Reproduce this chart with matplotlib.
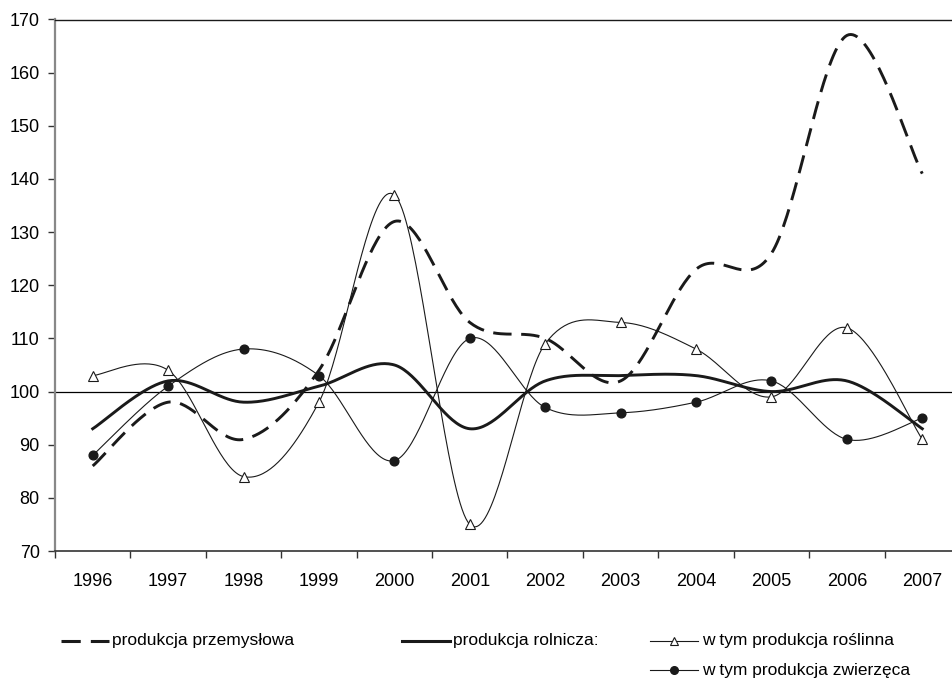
import numpy as np
import matplotlib
matplotlib.use("Agg")
import matplotlib.pyplot as plt
from matplotlib.lines import Line2D

plt.rcParams['font.family'] = ['Liberation Sans', 'DejaVu Sans']

years = ['1996', '1997', '1998', '1999', '2000', '2001', '2002', '2003', '2004', '2005', '2006', '2007']
przemyslowa = [86, 98, 91, 104, 132, 113, 110, 102, 123, 126, 167, 141]
rolnicza = [93, 102, 98, 101, 105, 93, 102, 103, 103, 100, 102, 93]
roslinna = [103, 104, 84, 98, 137, 75, 109, 113, 108, 99, 112, 91]
zwierzeca = [88, 101, 108, 103, 87, 110, 97, 96, 98, 102, 91, 95]
yticks = [70, 80, 90, 100, 110, 120, 130, 140, 150, 160, 170]


def smooth(xs, ys, n=40):
    xs = np.asarray(xs, float)
    ys = np.asarray(ys, float)
    P = np.column_stack([xs, ys])
    m = len(P)
    out = []
    for i in range(m - 1):
        p0 = P[i - 1] if i > 0 else P[i]
        p1 = P[i]
        p2 = P[i + 1]
        p3 = P[i + 2] if i + 2 < m else P[i + 1]
        c1 = p1 + (p2 - p0) / 6.0
        c2 = p2 - (p3 - p1) / 6.0
        t = np.linspace(0, 1, n)[:, None]
        seg = ((1 - t) ** 3) * p1 + 3 * ((1 - t) ** 2) * t * c1 + 3 * (1 - t) * t ** 2 * c2 + t ** 3 * p2
        if i > 0:
            seg = seg[1:]
        out.append(seg)
    out = np.vstack(out)
    return out[:, 0], out[:, 1]


W, H = 953, 680
fig = plt.figure(figsize=(W / 100, H / 100), dpi=100)
top_px, bot_px = 19.5, 551
ax = fig.add_axes([55 / W, 1 - bot_px / H, (960 - 55) / W, (bot_px - top_px) / H])

x = np.arange(len(years))
ink = '#1a1a1a'

ax.axhline(100, color='black', lw=0.9, zorder=1)

sx, sy = smooth(x, przemyslowa)
ax.plot(sx, sy, color=ink, lw=2.1, dashes=(6.3, 3.3), zorder=3)

sx, sy = smooth(x, rolnicza)
ax.plot(sx, sy, color=ink, lw=2.1, zorder=3)

sx, sy = smooth(x, roslinna)
ax.plot(sx, sy, color=ink, lw=0.8, zorder=2)
ax.plot(x, roslinna, ls='none', marker='^', ms=7, mfc='white', mec=ink, mew=0.8, zorder=4)

sx, sy = smooth(x, zwierzeca)
ax.plot(sx, sy, color=ink, lw=0.8, zorder=2)
ax.plot(x, zwierzeca, ls='none', marker='o', ms=6.3, mfc=ink, mec=ink, zorder=4)

ax.set_xlim(-0.5, len(years) - 0.5)
ax.set_ylim(70, 170)
ax.set_yticks(yticks)
ax.set_yticklabels([str(v) for v in yticks])
ax.set_xticks(x)
ax.set_xticklabels(years)
ax.set_xticks(np.arange(len(years) + 1) - 0.5, minor=True)
ax.tick_params(axis='x', which='major', length=0, pad=16, labelsize=13)
ax.tick_params(axis='x', which='minor', length=5, width=1, color='#333333', direction='out')
ax.tick_params(axis='y', length=5, width=1, color='#333333', direction='out', pad=6, labelsize=13)

for s in ['left', 'bottom']:
    ax.spines[s].set_color('#888888')
    ax.spines[s].set_linewidth(1.6)
ax.spines['bottom'].set_color('#333333')
ax.spines['bottom'].set_linewidth(1.2)
ax.spines['top'].set_color(ink)
ax.spines['top'].set_linewidth(1.0)
ax.spines['right'].set_visible(False)


def leg_line(x0, x1, y, **kw):
    fig.add_artist(Line2D([x0 / W, x1 / W], [1 - y / H, 1 - y / H], transform=fig.transFigure, **kw))


fs = 12.5
ly1, ly2 = 641, 670
leg_line(61, 109, ly1, color=ink, lw=2.2, dashes=(6.3, 3.3))
fig.text(112 / W, 1 - ly1 / H, 'produkcja przemysłowa', va='center', ha='left', fontsize=fs)
leg_line(402, 450, ly1, color=ink, lw=2.2)
fig.text(453 / W, 1 - ly1 / H, 'produkcja rolnicza:', va='center', ha='left', fontsize=fs)
leg_line(650, 698, ly1, color=ink, lw=0.8)
fig.add_artist(Line2D([674 / W], [1 - ly1 / H], transform=fig.transFigure, marker='^', ms=5.5,
                      mfc='white', mec=ink, mew=0.8, ls='none'))
fig.text(702 / W, 1 - ly1 / H, 'w tym produkcja roślinna', va='center', ha='left', fontsize=fs)
leg_line(650, 698, ly2, color=ink, lw=0.8)
fig.add_artist(Line2D([674 / W], [1 - ly2 / H], transform=fig.transFigure, marker='o', ms=5.5,
                      mfc=ink, mec=ink, ls='none'))
fig.text(702 / W, 1 - ly2 / H, 'w tym produkcja zwierzęca', va='center', ha='left', fontsize=fs)

fig.savefig('out.png', dpi=100)
